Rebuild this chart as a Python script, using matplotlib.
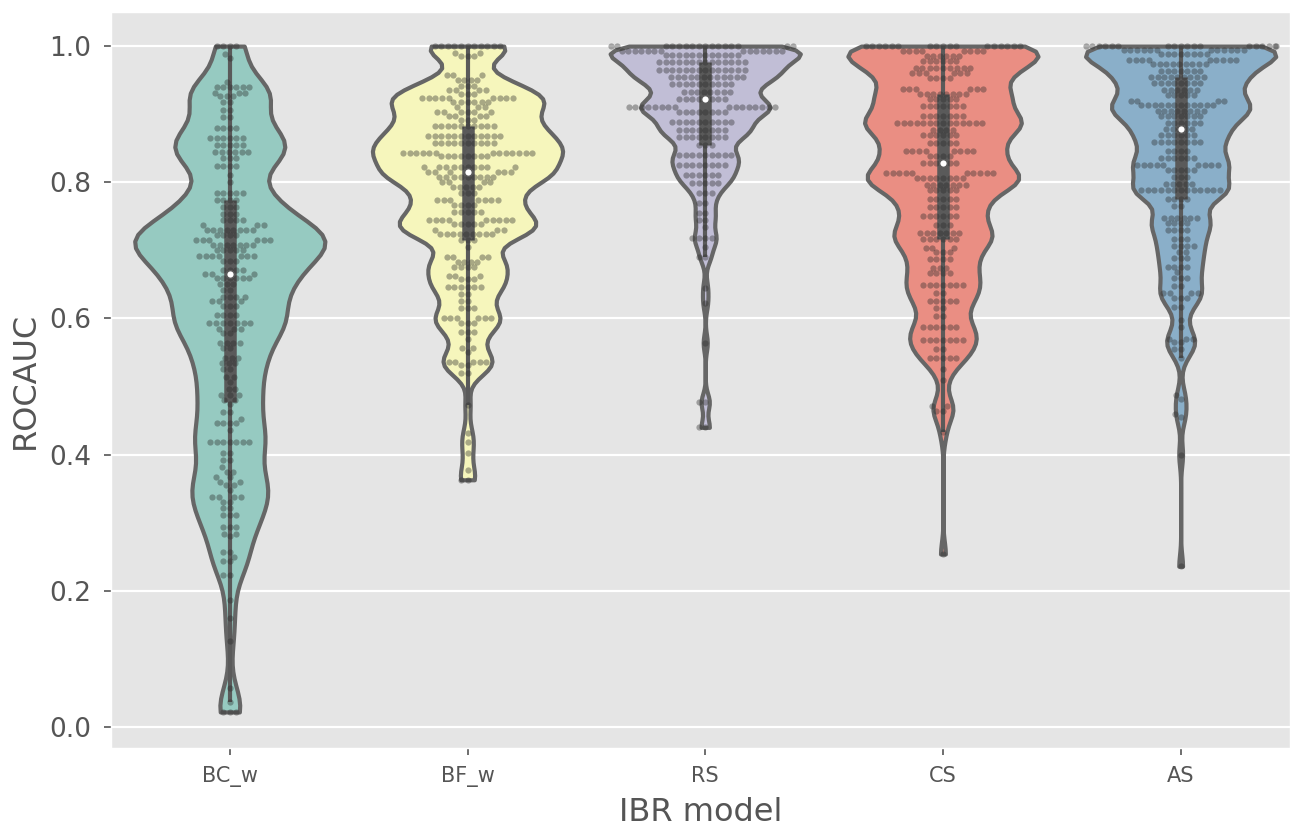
import numpy as np
import pandas as pd
import matplotlib
matplotlib.use("Agg")
import matplotlib.pyplot as plt
import seaborn as sns

models = ["BC_w", "BF_w", "RS", "CS", "AS"]

bcw_vals = [1.0, 0.988, 0.982, 0.948, 0.940, 0.931, 0.926, 0.918, 0.906, 0.896,
            0.880, 0.865, 0.855, 0.844, 0.835, 0.824, 0.810, 0.800, 0.784, 0.774,
            0.764, 0.754, 0.744, 0.737, 0.730, 0.722, 0.715, 0.708, 0.700, 0.691,
            0.684, 0.671, 0.665, 0.659, 0.650, 0.642, 0.632, 0.625, 0.618, 0.605,
            0.593, 0.585, 0.578, 0.564, 0.556, 0.542, 0.534, 0.525, 0.514, 0.507,
            0.497, 0.488, 0.480, 0.475, 0.463, 0.453, 0.446, 0.436, 0.419, 0.402,
            0.392, 0.382, 0.375, 0.367, 0.360, 0.355, 0.348, 0.338, 0.331, 0.321,
            0.311, 0.294, 0.284, 0.280, 0.257, 0.250, 0.243, 0.223, 0.187, 0.160,
            0.126, 0.057, 0.037, 0.022]
bcw_counts = [4, 1, 1, 1, 6, 3, 3, 2, 2, 2,
              4, 6, 5, 6, 3, 4, 1, 1, 5, 4,
              3, 3, 4, 3, 8, 4, 6, 7, 5, 7,
              3, 4, 3, 6, 3, 2, 4, 3, 3, 4,
              7, 3, 2, 4, 2, 3, 3, 2, 2, 1,
              2, 3, 2, 1, 2, 1, 4, 1, 7, 2,
              2, 1, 2, 2, 2, 2, 1, 4, 2, 2,
              3, 3, 2, 1, 2, 1, 2, 2, 1, 1,
              1, 1, 1, 3]

bfw_vals = [1.0, 0.990, 0.985, 0.957, 0.950, 0.942, 0.935, 0.929, 0.924, 0.918,
            0.910, 0.903, 0.897, 0.892, 0.882, 0.868, 0.857, 0.843, 0.838, 0.822,
            0.815, 0.808, 0.800, 0.793, 0.784, 0.774, 0.767, 0.756, 0.744, 0.739,
            0.730, 0.724, 0.715, 0.705, 0.690, 0.683, 0.675, 0.663, 0.658, 0.646,
            0.636, 0.626, 0.615, 0.600, 0.593, 0.580, 0.570, 0.556, 0.551, 0.536,
            0.531, 0.520, 0.473, 0.432, 0.419, 0.402, 0.377, 0.363]
bfw_counts = [11, 2, 3, 3, 4, 3, 4, 3, 9, 6,
              3, 6, 4, 3, 10, 12, 10, 13, 8, 10,
              6, 9, 4, 5, 3, 7, 4, 5, 9, 5,
              3, 9, 3, 1, 4, 4, 4, 3, 3, 6,
              2, 2, 3, 6, 3, 3, 1, 2, 1, 5,
              2, 2, 1, 1, 1, 1, 1, 2]

rs_vals = [1.0, 0.993, 0.987, 0.976, 0.965, 0.954, 0.945, 0.932, 0.923, 0.910,
           0.903, 0.888, 0.877, 0.866, 0.855, 0.840, 0.825, 0.810, 0.799, 0.784,
           0.770, 0.755, 0.745, 0.735, 0.718, 0.705, 0.690, 0.645, 0.623, 0.564,
           0.477, 0.440]
rs_counts = [16, 14, 12, 14, 14, 12, 10, 8, 8, 16,
             8, 10, 8, 8, 3, 9, 8, 6, 5, 3,
             2, 2, 2, 1, 4, 1, 2, 1, 1, 1,
             2, 2]

cs_vals = [1.0, 0.993, 0.986, 0.978, 0.968, 0.960, 0.953, 0.937, 0.930, 0.922,
           0.912, 0.897, 0.887, 0.877, 0.869, 0.857, 0.846, 0.839, 0.829, 0.813,
           0.806, 0.796, 0.788, 0.775, 0.763, 0.750, 0.737, 0.725, 0.717, 0.704,
           0.697, 0.687, 0.674, 0.666, 0.649, 0.638, 0.626, 0.616, 0.603, 0.588,
           0.568, 0.555, 0.542, 0.525, 0.509, 0.471, 0.464, 0.433, 0.254]
cs_counts = [17, 8, 6, 6, 9, 6, 4, 6, 8, 5,
             7, 7, 14, 4, 6, 5, 8, 4, 6, 10,
             8, 7, 5, 5, 5, 6, 3, 7, 6, 3,
             3, 4, 3, 4, 7, 2, 5, 2, 2, 6,
             7, 2, 5, 1, 1, 2, 2, 1, 1]

as_vals = [1.0, 0.995, 0.988, 0.980, 0.973, 0.964, 0.954, 0.946, 0.936, 0.928,
           0.920, 0.913, 0.905, 0.897, 0.887, 0.878, 0.869, 0.859, 0.846, 0.835,
           0.825, 0.818, 0.808, 0.797, 0.788, 0.776, 0.765, 0.748, 0.740, 0.730,
           0.717, 0.707, 0.698, 0.689, 0.676, 0.668, 0.660, 0.648, 0.637, 0.630,
           0.617, 0.598, 0.588, 0.570, 0.565, 0.555, 0.542, 0.488, 0.481, 0.460,
           0.455, 0.400, 0.236]
as_counts = [18, 12, 8, 9, 9, 7, 9, 8, 6, 5,
             4, 12, 8, 7, 6, 5, 6, 8, 4, 6,
             9, 5, 3, 5, 13, 4, 2, 6, 4, 4,
             3, 4, 2, 3, 4, 1, 3, 2, 4, 3,
             2, 1, 1, 3, 2, 2, 1, 1, 1, 1,
             1, 1, 1]

all_vals = [bcw_vals, bfw_vals, rs_vals, cs_vals, as_vals]
all_counts = [bcw_counts, bfw_counts, rs_counts, cs_counts, as_counts]

frames = []
for name, vals, counts in zip(models, all_vals, all_counts):
    frames.append(pd.DataFrame({"model": name, "ROCAUC": np.repeat(vals, counts)}))
df = pd.concat(frames, ignore_index=True)

plt.style.use("ggplot")
fig = plt.figure(figsize=(12.9, 8.26), dpi=100)
ax = fig.add_axes([0.086, 0.0944, 0.914, 0.891])

sns.violinplot(data=df, x="model", y="ROCAUC", order=models, hue="model",
               hue_order=models, palette="Set3", legend=False, cut=0,
               density_norm="width", bw_method=0.12, linewidth=3, inner=None,
               ax=ax)

gray = "#5a5a5a"
for i, name in enumerate(models):
    obs = df.loc[df["model"] == name, "ROCAUC"].to_numpy()
    q1, med, q3 = np.percentile(obs, [25, 50, 75])
    lim = 1.5 * (q3 - q1)
    lo = obs[obs >= q1 - lim].min()
    hi = obs[obs <= q3 + lim].max()
    ax.plot([i, i], [lo, hi], color=gray, lw=3, solid_capstyle="butt", zorder=2)
    ax.plot([i, i], [q1, q3], color=gray, lw=9, solid_capstyle="butt", zorder=2)
    ax.scatter([i], [med], s=30, color="white", edgecolor=gray, lw=1, zorder=5)

sns.swarmplot(data=df, x="model", y="ROCAUC", order=models, color="#2a2a2a",
              alpha=0.38, size=4.5, ax=ax, zorder=3)

ax.set_xlim(-0.5, 4.46)
ax.set_ylim(-0.031, 1.05)
ax.set_yticks([0.0, 0.2, 0.4, 0.6, 0.8, 1.0])
ax.tick_params(axis="y", labelsize=19, length=5, width=1.2, pad=9, color="#555555")
ax.tick_params(axis="x", labelsize=15, length=5, width=1.2, pad=8, color="#555555")
ax.set_xlabel("IBR model", fontsize=23, color="#555555", labelpad=7)
ax.set_ylabel("ROCAUC", fontsize=23, color="#555555", labelpad=6)
ax.xaxis.grid(False)
ax.yaxis.grid(True, color="white", linewidth=1.6)

fig.savefig("out.png", dpi=100)
